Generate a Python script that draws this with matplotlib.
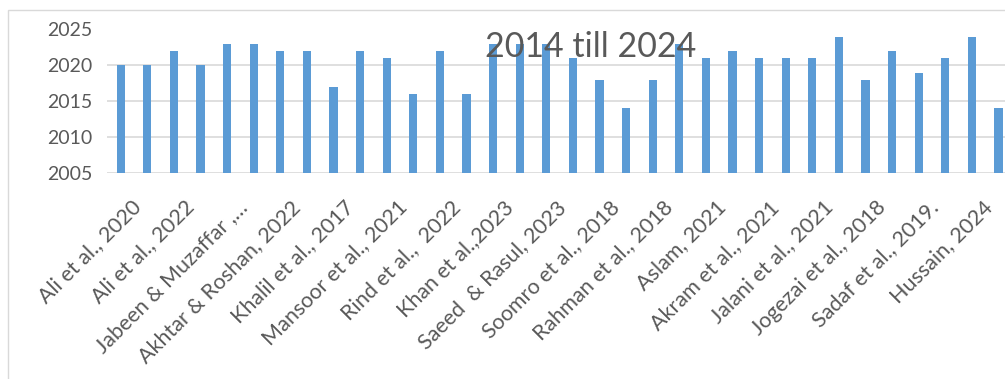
import numpy as np
import matplotlib.pyplot as plt
import matplotlib.transforms as mtransforms
from matplotlib.patches import Rectangle

# ── data ─────────────────────────────────────────────────────────────────────
years = [2020, 2020, 2022, 2020, 2023, 2023, 2022, 2022, 2017, 2022,
         2021, 2016, 2022, 2016, 2023, 2023, 2023, 2021, 2018, 2014,
         2018, 2023, 2021, 2022, 2021, 2021, 2021, 2024, 2018, 2022,
         2019, 2021, 2024, 2014]
shown_labels = ["Ali et al., 2020", "Ali et al., 2022", "Jabeen & Muzaffar ,…",
                "Akhtar & Roshan, 2022", "Khalil et al., 2017", "Mansoor et al., 2021",
                "Rind et al.,  2022", "Khan et al.,2023", "Saeed  & Rasul, 2023",
                "Soomro et al., 2018", "Rahman et al., 2018", "Aslam, 2021",
                "Akram et al., 2021", "Jalani et al., 2021", "Jogezai et al., 2018",
                "Sadaf et al., 2019.", "Hussain, 2024"]
title = "2014 till 2024"
y_base = 2005

# ── style ────────────────────────────────────────────────────────────────────
plt.rcParams["font.family"] = ["Lato", "DejaVu Sans"]
BAR = "#5B9BD5"
TXT = "#595959"
GRID = "#D9D9D9"

W, H = 1005, 379
fig = plt.figure(figsize=(W / 100, H / 100), dpi=100)

# chart border (runs off the right and bottom edges)
fig.patches.append(Rectangle((8 / W, -0.1), 1.2, 1 - 10 / H + 0.1,
                             transform=fig.transFigure, fill=False,
                             edgecolor=GRID, linewidth=1.0))

step = 26.6
left = 107.4
ax = fig.add_axes([left / W, (H - 173) / H, len(years) * step / W, 143.5 / H])

x = np.arange(len(years))
ax.bar(x, np.array(years) - y_base, bottom=y_base, width=0.31, color=BAR, zorder=2)

ax.set_xlim(-0.5, len(years) - 0.5)
ax.set_ylim(2005, 2025)
ax.set_yticks(range(2005, 2026, 5))
ax.yaxis.grid(True, color=GRID, linewidth=1.2, zorder=0)
ax.set_axisbelow(True)
for s in ax.spines.values():
    s.set_visible(False)
ax.tick_params(axis="both", length=0, colors=TXT)
ax.tick_params(axis="y", labelsize=14, pad=11)

ax.set_xticks(x[::2])
ax.set_xticklabels(shown_labels, rotation=45, ha="right", va="center",
                   rotation_mode="anchor", fontsize=15.5, color=TXT)
ax.tick_params(axis="x", pad=0)
offset = mtransforms.ScaledTranslation(17 / 100, -31 / 100, fig.dpi_scale_trans)
for lbl in ax.get_xticklabels():
    lbl.set_transform(lbl.get_transform() + offset)

fig.text(591 / W, 1 - 47 / H, title, ha="center", va="center",
         fontsize=24.5, color=TXT, zorder=10)

fig.savefig("out.png", dpi=100)
